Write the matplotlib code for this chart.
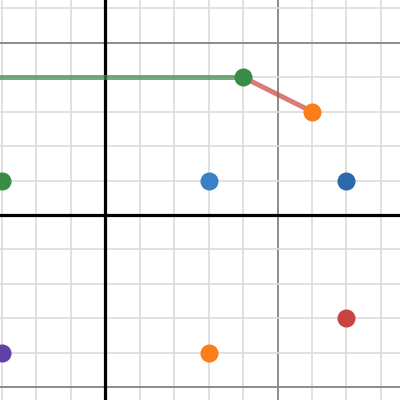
import matplotlib
matplotlib.use("Agg")
import matplotlib.pyplot as plt
import numpy as np

# Data
pt_x = [4, 6, -3, 3, 7, -3, 3, 7]
pt_y = [4, 3, 1, 1, 1, -4, -4, -3]
pt_colors = ["#388c46", "#fa7e19", "#388c46", "#3a80c4", "#2d68ab", "#6042a6", "#fa7e19", "#c74440"]

green_line_x = [-10, 4]
green_line_y = [4, 4]
red_line_x = [4, 6]
red_line_y = [4, 3]

xmin, xmax = -3.057, 8.554
ymin, ymax = -5.370, 6.241

fig = plt.figure(figsize=(4, 4), dpi=100)
ax = fig.add_axes([0, 0, 1, 1])
ax.set_xlim(xmin, xmax)
ax.set_ylim(ymin, ymax)
ax.axis("off")

# grid
for gx in range(-3, 9):
    major = gx % 5 == 0
    if gx == 0:
        continue
    ax.axvline(gx, color="#8c8c8c" if major else "#dcdcdc", lw=1.4 if major else 1.2, zorder=0)
for gy in range(-5, 7):
    if gy == 0:
        continue
    major = gy % 5 == 0
    ax.axhline(gy, color="#8c8c8c" if major else "#dcdcdc", lw=1.4 if major else 1.2, zorder=0)
ax.axvline(0, color="black", lw=2.3, zorder=1)
ax.axhline(0, color="black", lw=2.3, zorder=1)

ax.plot(green_line_x, green_line_y, color="#388c46", lw=3.6, alpha=0.7, solid_capstyle="butt", zorder=2)
ax.plot(red_line_x, red_line_y, color="#c74440", lw=3.6, alpha=0.7, solid_capstyle="round", zorder=2)

for x, y, c in zip(pt_x, pt_y, pt_colors):
    ax.plot([x], [y], "o", color=c, markersize=13, markeredgewidth=0, zorder=3)

fig.savefig("out.png", dpi=100)
